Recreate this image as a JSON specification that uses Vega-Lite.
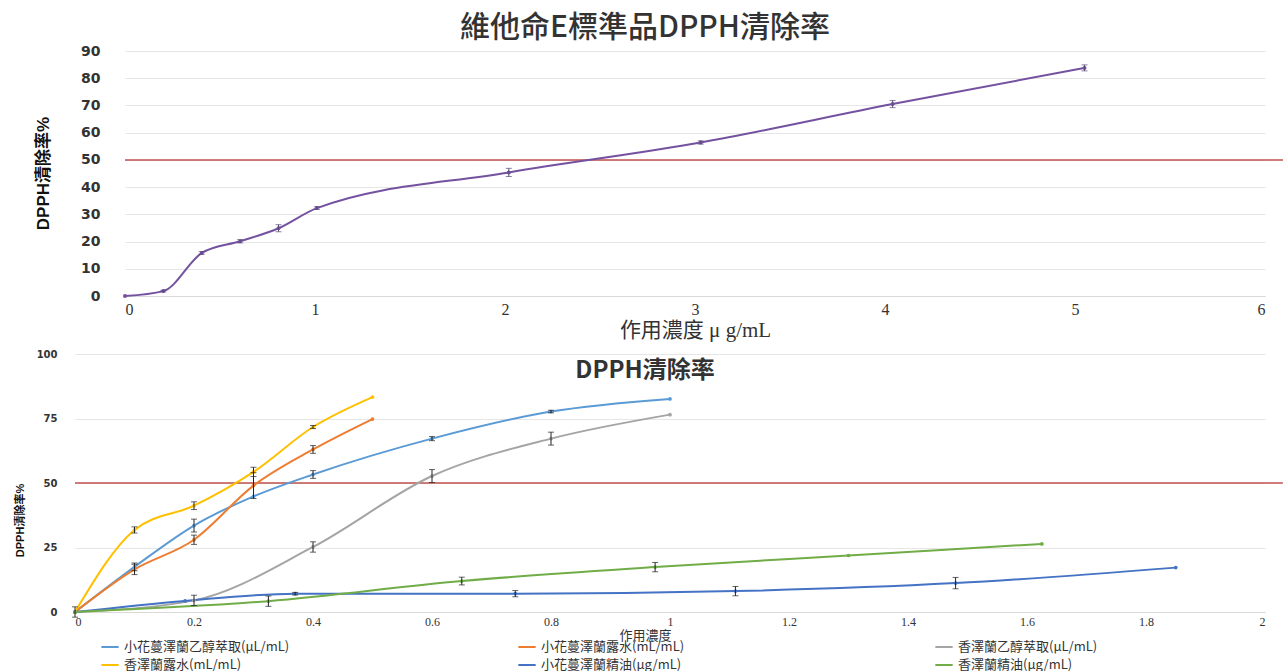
{
  "$schema": "https://vega.github.io/schema/vega-lite/v6.json",
  "background": "white",
  "padding": {"left": 0, "top": 13, "right": 0, "bottom": 0},
  "bounds": "full",
  "spacing": 9,
  "config": {"view": {"stroke": null}, "font": "Noto Sans CJK TC"},
  "datasets": {
    "vitE": [
      {"x": 0, "y": 0, "err": null},
      {"x": 0.202, "y": 1.8, "err": 0.3},
      {"x": 0.404, "y": 15.8, "err": 0.5},
      {"x": 0.606, "y": 20.1, "err": 0.6},
      {"x": 0.808, "y": 24.9, "err": 1.3},
      {"x": 1.01, "y": 32.3, "err": 0.5},
      {"x": 2.02, "y": 45.4, "err": 1.5},
      {"x": 3.03, "y": 56.4, "err": 0.6},
      {"x": 4.04, "y": 70.5, "err": 1.3},
      {"x": 5.05, "y": 83.8, "err": 1.1}
    ],
    "dpph": [
      {"series": "小花蔓澤蘭乙醇萃取(µL/mL)", "x": 0, "y": 0, "err": null},
      {"series": "小花蔓澤蘭乙醇萃取(µL/mL)", "x": 0.1, "y": 17.5, "err": 1.5},
      {"series": "小花蔓澤蘭乙醇萃取(µL/mL)", "x": 0.2, "y": 33.5, "err": 2.5},
      {"series": "小花蔓澤蘭乙醇萃取(µL/mL)", "x": 0.3, "y": 44.8, "err": null},
      {"series": "小花蔓澤蘭乙醇萃取(µL/mL)", "x": 0.4, "y": 53.3, "err": 1.5},
      {"series": "小花蔓澤蘭乙醇萃取(µL/mL)", "x": 0.6, "y": 67.2, "err": 0.8},
      {"series": "小花蔓澤蘭乙醇萃取(µL/mL)", "x": 0.8, "y": 77.7, "err": 0.5},
      {"series": "小花蔓澤蘭乙醇萃取(µL/mL)", "x": 1.0, "y": 82.6, "err": null},
      {"series": "小花蔓澤蘭露水(mL/mL)", "x": 0, "y": 0, "err": 2},
      {"series": "小花蔓澤蘭露水(mL/mL)", "x": 0.1, "y": 16.5, "err": 2},
      {"series": "小花蔓澤蘭露水(mL/mL)", "x": 0.2, "y": 28, "err": 1.8},
      {"series": "小花蔓澤蘭露水(mL/mL)", "x": 0.3, "y": 49, "err": 5},
      {"series": "小花蔓澤蘭露水(mL/mL)", "x": 0.4, "y": 63, "err": 1.5},
      {"series": "小花蔓澤蘭露水(mL/mL)", "x": 0.5, "y": 74.8, "err": null},
      {"series": "香澤蘭乙醇萃取(µL/mL)", "x": 0, "y": 0, "err": null},
      {"series": "香澤蘭乙醇萃取(µL/mL)", "x": 0.2, "y": 4.5, "err": 2},
      {"series": "香澤蘭乙醇萃取(µL/mL)", "x": 0.4, "y": 25.2, "err": 2},
      {"series": "香澤蘭乙醇萃取(µL/mL)", "x": 0.6, "y": 52.7, "err": 2.5},
      {"series": "香澤蘭乙醇萃取(µL/mL)", "x": 0.8, "y": 67.2, "err": 2.5},
      {"series": "香澤蘭乙醇萃取(µL/mL)", "x": 1.0, "y": 76.5, "err": null},
      {"series": "香澤蘭露水(mL/mL)", "x": 0, "y": 0, "err": null},
      {"series": "香澤蘭露水(mL/mL)", "x": 0.1, "y": 31.8, "err": 1.2},
      {"series": "香澤蘭露水(mL/mL)", "x": 0.2, "y": 41.2, "err": 1.5},
      {"series": "香澤蘭露水(mL/mL)", "x": 0.3, "y": 54.3, "err": 1.8},
      {"series": "香澤蘭露水(mL/mL)", "x": 0.4, "y": 71.7, "err": 0.6},
      {"series": "香澤蘭露水(mL/mL)", "x": 0.5, "y": 83.3, "err": null},
      {"series": "小花蔓澤蘭精油(µg/mL)", "x": 0, "y": 0, "err": null},
      {"series": "小花蔓澤蘭精油(µg/mL)", "x": 0.185, "y": 4.3, "err": null},
      {"series": "小花蔓澤蘭精油(µg/mL)", "x": 0.37, "y": 7.1, "err": 0.5},
      {"series": "小花蔓澤蘭精油(µg/mL)", "x": 0.74, "y": 7.1, "err": 1.2},
      {"series": "小花蔓澤蘭精油(µg/mL)", "x": 1.11, "y": 8.1, "err": 1.8},
      {"series": "小花蔓澤蘭精油(µg/mL)", "x": 1.48, "y": 11.2, "err": 2.2},
      {"series": "小花蔓澤蘭精油(µg/mL)", "x": 1.85, "y": 17.2, "err": null},
      {"series": "香澤蘭精油(µg/mL)", "x": 0, "y": 0, "err": null},
      {"series": "香澤蘭精油(µg/mL)", "x": 0.325, "y": 4.2, "err": 2},
      {"series": "香澤蘭精油(µg/mL)", "x": 0.65, "y": 12, "err": 1.5},
      {"series": "香澤蘭精油(µg/mL)", "x": 0.975, "y": 17.4, "err": 1.8},
      {"series": "香澤蘭精油(µg/mL)", "x": 1.3, "y": 21.9, "err": null},
      {"series": "香澤蘭精油(µg/mL)", "x": 1.625, "y": 26.4, "err": null}
    ]
  },
  "vconcat": [
    {
      "width": 1190,
      "height": 245,
      "title": {"text": "維他命E標準品DPPH清除率", "fontSize": 30, "font": "Noto Sans CJK TC", "fontWeight": 500, "color": "#333333", "anchor": "middle", "dx": -25, "offset": 1},
      "data": {"name": "vitE"},
      "encoding": {
        "x": {"field": "x", "type": "quantitative", "scale": {"domain": [0, 6], "nice": false, "range": [50, 1190]},
          "axis": {"title": "作用濃度 μ g/mL", "values": [0, 1, 2, 3, 4, 5, 6], "grid": false, "ticks": false, "domainColor": "#d9d9d9", "labelFont": "Liberation Serif", "labelFontSize": 16, "labelColor": "#333333", "labelPadding": 5, "titleFont": "Liberation Serif, Noto Sans CJK TC", "titleFontSize": 21, "titleFontWeight": "normal", "titleColor": "#333333", "titlePadding": 2}},
        "y": {"field": "y", "type": "quantitative", "scale": {"domain": [0, 90], "nice": false},
          "axis": {"title": "DPPH清除率%", "values": [0, 10, 20, 30, 40, 50, 60, 70, 80, 90], "grid": true, "gridColor": "#e6e6e6", "domain": false, "ticks": false, "offset": -50, "labelFont": "DejaVu Sans", "labelFontWeight": "bold", "labelFontSize": 14, "labelColor": "#333333", "labelPadding": 25, "titleFont": "Liberation Sans Narrow, Liberation Sans, Noto Sans CJK TC", "titleFontSize": 17, "titleFontWeight": "bold", "titleColor": "#111111", "titleX": -82, "titleY": 122, "titleAngle": -90, "titleAlign": "center", "titleBaseline": "middle"}}
      },
      "layer": [
        {"data": {"values": [{"ref": 50, "x0": 0, "x1": 6.1}]}, "mark": {"type": "rule", "color": "#C0504D", "strokeWidth": 1.5},
          "encoding": {"x": {"field": "x0", "type": "quantitative"}, "x2": {"field": "x1"}, "y": {"field": "ref", "type": "quantitative"}}},
        {"mark": {"type": "line", "interpolate": "monotone", "color": "#7452A0", "strokeWidth": 2, "point": {"filled": true, "size": 16, "color": "#7452A0"}}},
        {"transform": [{"filter": "datum.err > 0"}], "mark": {"type": "errorbar", "color": "#5a4a7a", "thickness": 1, "ticks": {"size": 6}}, "encoding": {"yError": {"field": "err"}}}
      ]
    },
    {
      "width": 1190,
      "height": 258,
      "title": {"text": "DPPH清除率", "fontSize": 24, "font": "Noto Sans CJK TC", "fontWeight": "bold", "color": "#333333", "anchor": "middle", "dx": -25, "offset": -34},
      "data": {"name": "dpph"},
      "encoding": {
        "x": {"field": "x", "type": "quantitative", "scale": {"domain": [0, 2], "nice": false},
          "axis": {"title": "作用濃度", "values": [0, 0.2, 0.4, 0.6, 0.8, 1, 1.2, 1.4, 1.6, 1.8, 2], "format": "~g", "grid": false, "ticks": false, "domainColor": "#d9d9d9", "labelFont": "Liberation Serif", "labelFontSize": 12, "labelColor": "#333333", "labelPadding": 4, "titleFont": "Noto Sans CJK TC", "titleFontSize": 13, "titleFontWeight": "normal", "titleColor": "#333333", "titlePadding": 2, "titleX": 570}},
        "y": {"field": "y", "type": "quantitative", "scale": {"domain": [0, 100], "nice": false},
          "axis": {"title": "DPPH清除率%", "values": [0, 25, 50, 75, 100], "grid": true, "gridColor": "#e6e6e6", "domain": false, "ticks": false, "labelFont": "DejaVu Sans", "labelFontWeight": "bold", "labelFontSize": 10, "labelColor": "#333333", "labelPadding": 18, "minExtent": 75, "maxExtent": 75, "titleFont": "Liberation Sans Narrow, Liberation Sans, Noto Sans CJK TC", "titleFontSize": 11, "titleFontWeight": "bold", "titleColor": "#111111", "titleX": -55, "titleY": 166, "titleAngle": -90, "titleAlign": "center", "titleBaseline": "middle"}}
      },
      "layer": [
        {"data": {"values": [{"ref": 50, "x0": 0, "x1": 2.03}]}, "mark": {"type": "rule", "color": "#C0504D", "strokeWidth": 1.5},
          "encoding": {"x": {"field": "x0", "type": "quantitative"}, "x2": {"field": "x1"}, "y": {"field": "ref", "type": "quantitative"}}},
        {"mark": {"type": "line", "interpolate": "monotone", "strokeWidth": 2, "point": {"filled": true, "size": 14}},
          "encoding": {"color": {"field": "series", "type": "nominal",
            "scale": {"domain": ["小花蔓澤蘭乙醇萃取(µL/mL)", "小花蔓澤蘭露水(mL/mL)", "香澤蘭乙醇萃取(µL/mL)", "香澤蘭露水(mL/mL)", "小花蔓澤蘭精油(µg/mL)", "香澤蘭精油(µg/mL)"],
              "range": ["#5B9BD5", "#ED7D31", "#A5A5A5", "#FFC000", "#4472C4", "#70AD47"]},
            "legend": {"orient": "none", "legendX": 25, "legendY": 586, "direction": "horizontal", "columns": 3, "title": null, "labelFont": "Noto Sans CJK TC", "labelFontSize": 13, "labelLimit": 400, "labelColor": "#333333", "symbolType": "stroke", "symbolSize": 300, "symbolStrokeWidth": 2, "columnPadding": 224, "rowPadding": 1, "gridAlign": "all"}}}},
        {"transform": [{"filter": "datum.err > 0"}], "mark": {"type": "errorbar", "color": "#222222", "thickness": 1, "ticks": {"size": 6}}, "encoding": {"yError": {"field": "err"}}}
      ]
    }
  ]
}
